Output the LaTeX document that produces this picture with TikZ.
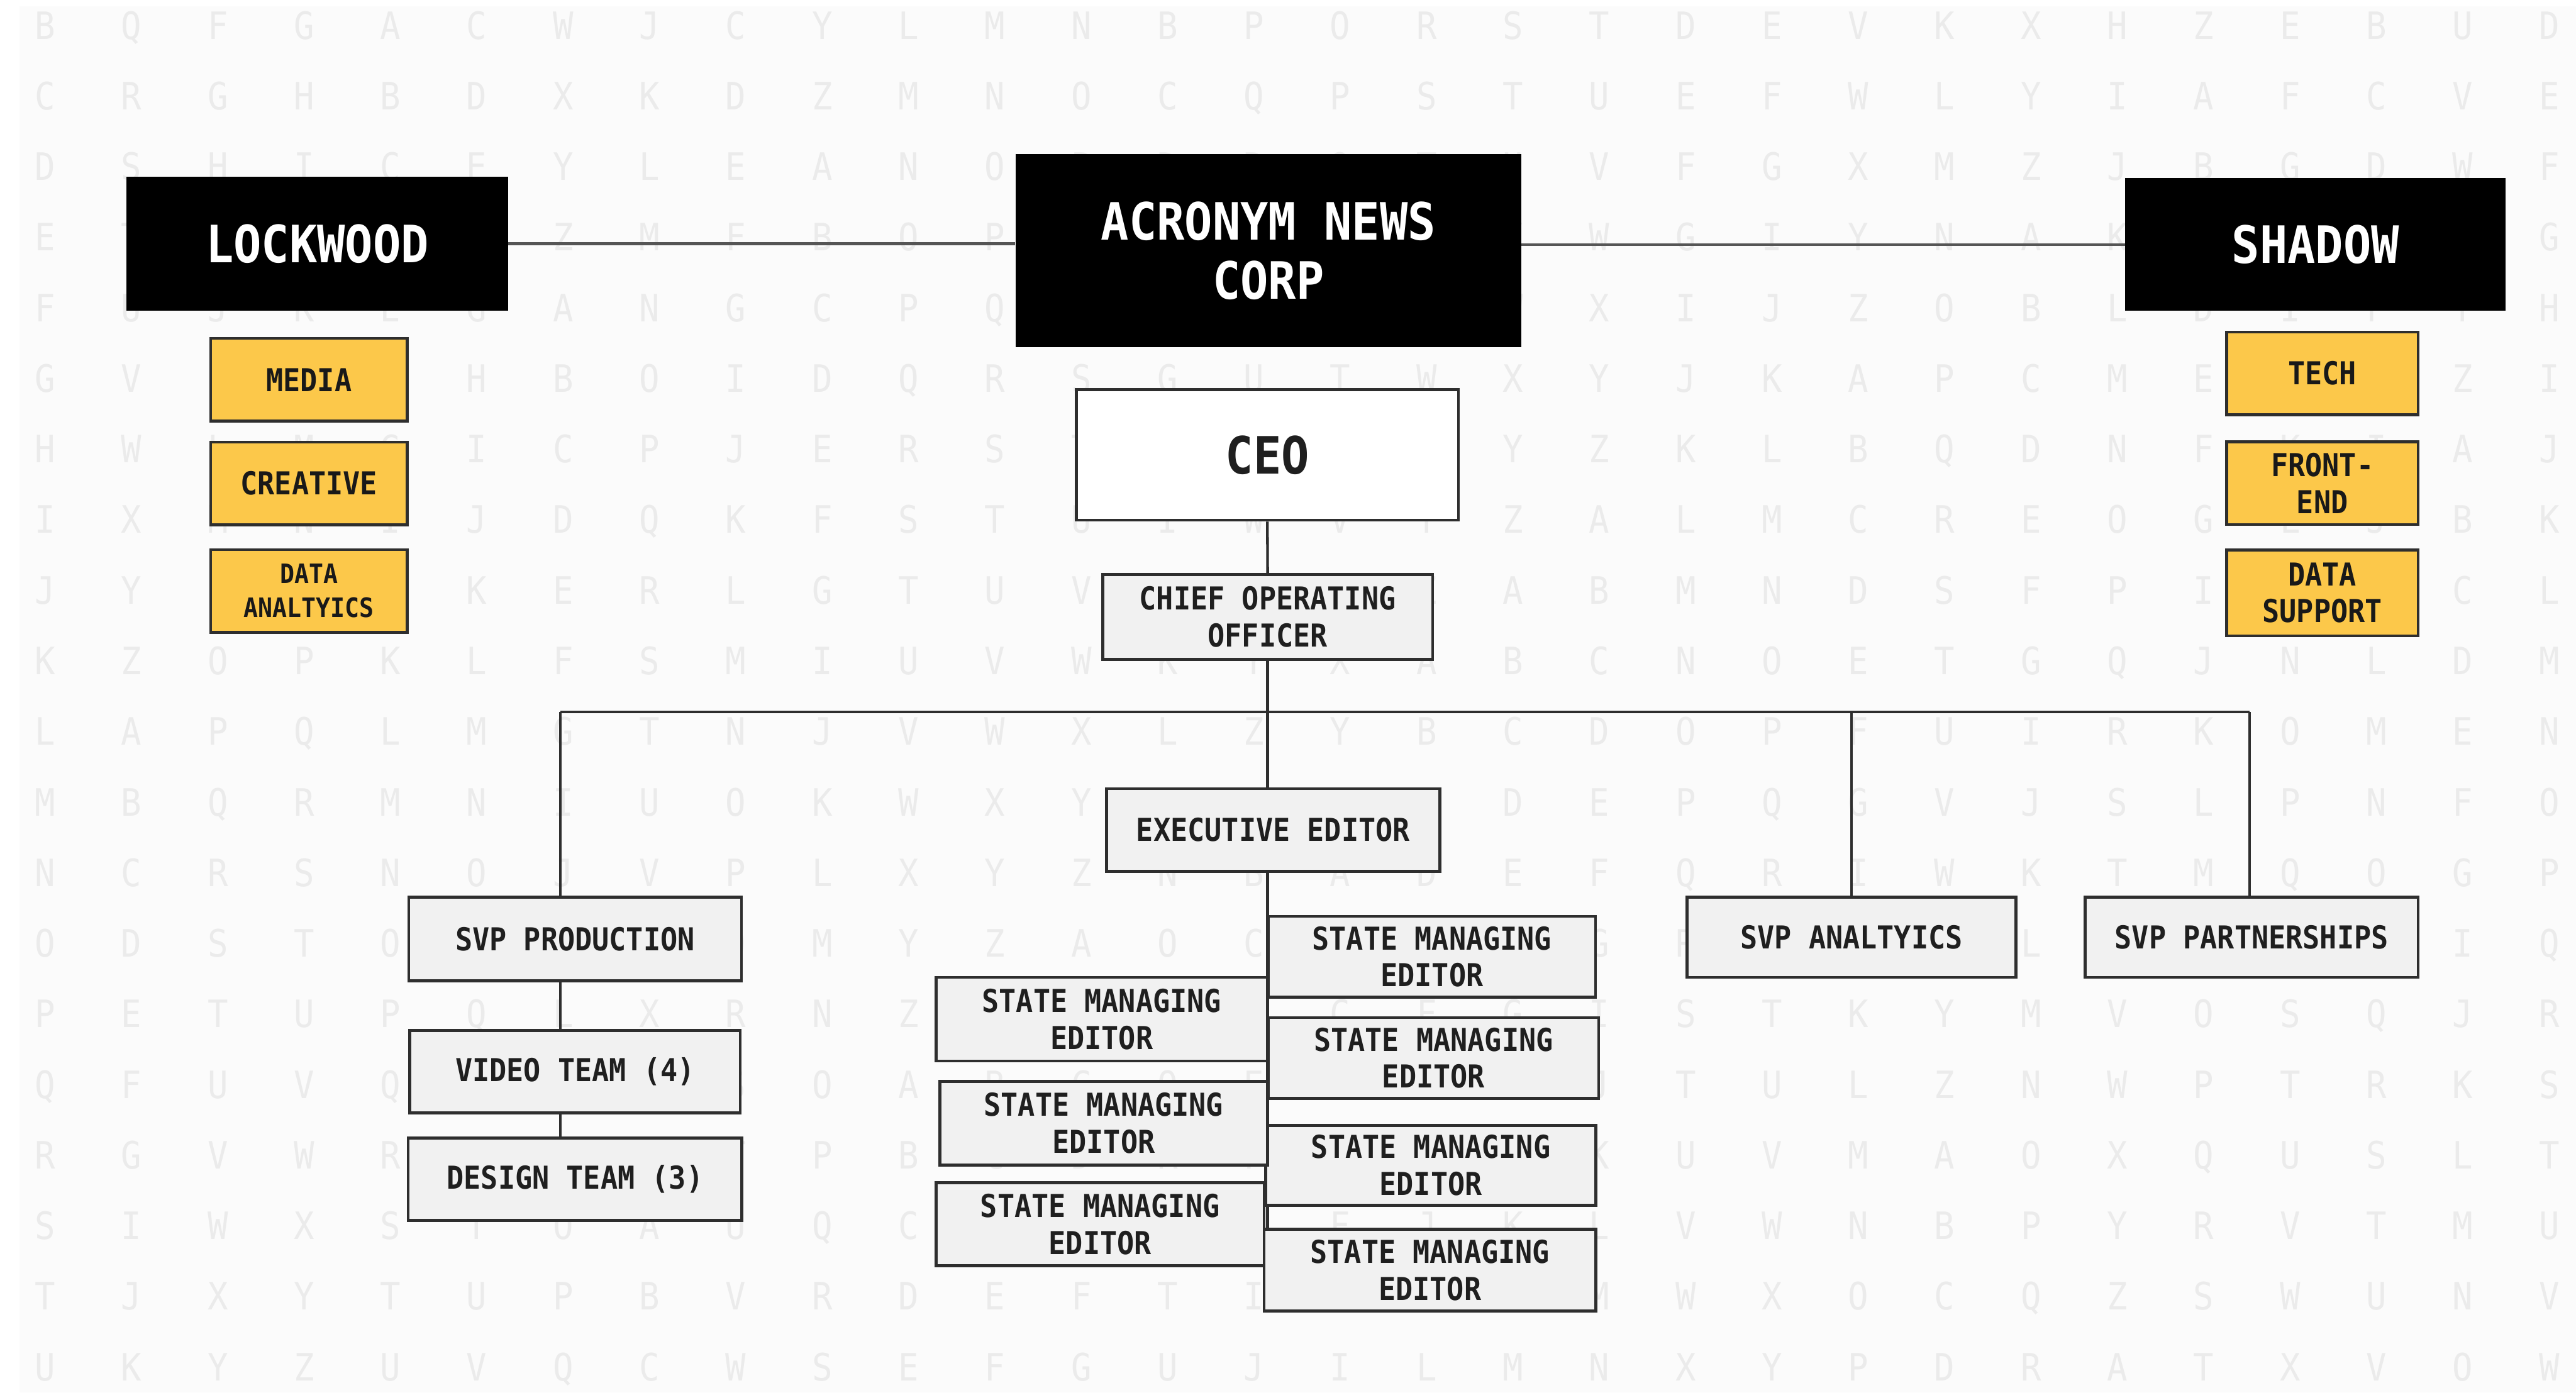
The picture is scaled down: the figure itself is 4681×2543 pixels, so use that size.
\documentclass[tikz,border=0pt]{standalone}
\usepackage{fontspec}
\setmonofont{DejaVu Sans Mono}
\newfontfamily\boxfont{DejaVu Sans Mono}[FakeStretch=0.9]
\usepackage{tikz}
\usetikzlibrary{positioning}
\definecolor{paper}{HTML}{FBFBFB}
\definecolor{gridletter}{HTML}{EBEBEB}
\definecolor{unityellow}{HTML}{FCC84A}
\definecolor{rolegray}{HTML}{F1F1F1}
\definecolor{edgegray}{HTML}{2E2E2E}
\definecolor{topline}{HTML}{555555}
\pgfdeclarelayer{letters}
\pgfdeclarelayer{wires}
\pgfsetlayers{letters,wires,main}

\begin{document}
\begin{tikzpicture}[x=0.01cm, y=-0.01cm,
	company/.style={rectangle, fill=black, text=white, inner sep=0pt, align=center, font=\boxfont\bfseries\fontsize{26.6}{30.4}\selectfont},
	unit/.style={rectangle, draw=edgegray, line width=1.5pt, fill=unityellow, text=black!90, inner sep=0pt, align=center, minimum width=3.57cm, minimum height=1.5cm, font=\boxfont\bfseries\fontsize{16.3}{19}\selectfont},
	role/.style={rectangle, draw=edgegray, line width=1.5pt, fill=rolegray, text=black!88, inner sep=0pt, align=center, minimum width=6cm, minimum height=1.5cm, font=\boxfont\bfseries\fontsize{16.3}{19}\selectfont},
	wire/.style={draw=edgegray, line width=1.4pt}]
	\useasboundingbox (0,0) rectangle (4681,2543);
	
	% BACKGROUND LETTERS
	\begin{pgfonlayer}{letters}
		\fill[white] (0,0) rectangle (4681,2543);
		\fill[paper] (35,12) rectangle (4681,2530);
		\foreach \line [count=\r] in {
			{B,Q,F,G,A,C,W,J,C,Y,L,M,N,B,P,O,R,S,T,D,E,V,K,X,H,Z,E,B,U,D},
			{C,R,G,H,B,D,X,K,D,Z,M,N,O,C,Q,P,S,T,U,E,F,W,L,Y,I,A,F,C,V,E},
			{D,S,H,I,C,E,Y,L,E,A,N,O,P,D,R,Q,T,U,V,F,G,X,M,Z,J,B,G,D,W,F},
			{E,T,I,J,D,F,Z,M,F,B,O,P,Q,E,S,R,U,V,W,G,I,Y,N,A,K,C,H,E,X,G},
			{F,U,J,K,E,G,A,N,G,C,P,Q,R,F,T,S,V,W,X,I,J,Z,O,B,L,D,I,F,Y,H},
			{G,V,K,L,F,H,B,O,I,D,Q,R,S,G,U,T,W,X,Y,J,K,A,P,C,M,E,J,G,Z,I},
			{H,W,L,M,G,I,C,P,J,E,R,S,T,H,V,U,X,Y,Z,K,L,B,Q,D,N,F,K,I,A,J},
			{I,X,M,N,I,J,D,Q,K,F,S,T,U,I,W,V,Y,Z,A,L,M,C,R,E,O,G,L,J,B,K},
			{J,Y,N,O,J,K,E,R,L,G,T,U,V,J,X,W,Z,A,B,M,N,D,S,F,P,I,M,K,C,L},
			{K,Z,O,P,K,L,F,S,M,I,U,V,W,K,Y,X,A,B,C,N,O,E,T,G,Q,J,N,L,D,M},
			{L,A,P,Q,L,M,G,T,N,J,V,W,X,L,Z,Y,B,C,D,O,P,F,U,I,R,K,O,M,E,N},
			{M,B,Q,R,M,N,I,U,O,K,W,X,Y,M,A,Z,C,D,E,P,Q,G,V,J,S,L,P,N,F,O},
			{N,C,R,S,N,O,J,V,P,L,X,Y,Z,N,B,A,D,E,F,Q,R,I,W,K,T,M,Q,O,G,P},
			{O,D,S,T,O,P,K,W,Q,M,Y,Z,A,O,C,B,E,F,G,R,S,J,X,L,U,N,R,P,I,Q},
			{P,E,T,U,P,Q,L,X,R,N,Z,A,B,P,D,C,F,G,I,S,T,K,Y,M,V,O,S,Q,J,R},
			{Q,F,U,V,Q,R,M,Y,S,O,A,B,C,Q,E,D,G,I,J,T,U,L,Z,N,W,P,T,R,K,S},
			{R,G,V,W,R,S,N,Z,T,P,B,C,D,R,F,E,I,J,K,U,V,M,A,O,X,Q,U,S,L,T},
			{S,I,W,X,S,T,O,A,U,Q,C,D,E,S,G,F,J,K,L,V,W,N,B,P,Y,R,V,T,M,U},
			{T,J,X,Y,T,U,P,B,V,R,D,E,F,T,I,G,K,L,M,W,X,O,C,Q,Z,S,W,U,N,V},
			{U,K,Y,Z,U,V,Q,C,W,S,E,F,G,U,J,I,L,M,N,X,Y,P,D,R,A,T,X,V,O,W}}
		{
			\foreach \ch [count=\c] in \line
				\node[anchor=base, inner sep=0pt, text=gridletter, font=\boxfont\fontsize{19.5}{19.5}\selectfont] (g-\r-\c) at ({82+156.9*(\c-1)}, {71+128.3*(\r-1)}) {\ch};
		}
	\end{pgfonlayer}
	
	% TOP LEVEL
	\node[company, minimum width=6.93cm, minimum height=2.44cm] (lockwood) at (576.5,443) {LOCKWOOD};
	\node[company, minimum width=9.18cm, minimum height=3.51cm] (corp) at (2305,455.5) {ACRONYM NEWS\\CORP};
	\node[company, minimum width=6.91cm, minimum height=2.41cm] (shadow) at (4207.5,444.5) {SHADOW};
	
	% UNITS
	\node[unit] (media) at (561.5,690) {MEDIA};
	\node[unit, below=0.33cm of media] (creative) {CREATIVE};
	\node[unit, below=0.40cm of creative, font=\boxfont\bfseries\fontsize{13.8}{17.5}\selectfont] (dataanalytics) {DATA\\ANALTYICS};
	
	\node[unit, minimum width=3.48cm] (tech) at (4220,678.5) {TECH};
	\node[unit, minimum width=3.48cm, below=0.44cm of tech] (frontend) {FRONT-\\END};
	\node[unit, minimum width=3.48cm, minimum height=1.56cm, below=0.41cm of frontend] (datasupport) {DATA\\SUPPORT};
	
	% ROLES
	\node[role, fill=white, minimum width=6.94cm, minimum height=2.37cm, font=\boxfont\bfseries\fontsize{26.6}{30.4}\selectfont] (ceo) at (2303,826.5) {CEO};
	\node[role, minimum width=5.99cm, minimum height=1.54cm] (coo) at (2303.5,1121) {CHIEF OPERATING\\OFFICER};
	\node[role, minimum width=6.05cm] (exec) at (2313.5,1508) {EXECUTIVE EDITOR};
	
	\node[role, minimum width=6.04cm, minimum height=1.52cm] (svpproduction) at (1045,1706) {SVP PRODUCTION};
	\node[role, below=0.85cm of svpproduction] (videoteam) {VIDEO TEAM (4)};
	\node[role, minimum width=6.06cm, below=0.40cm of videoteam] (designteam) {DESIGN TEAM (3)};
	
	\node[role, minimum width=5.97cm, minimum height=1.46cm] (svpanalytics) at (3364.5,1703) {SVP ANALTYICS};
	\node[role, minimum width=6.05cm, minimum height=1.46cm] (svppartnerships) at (4091.5,1703) {SVP PARTNERSHIPS};
	
	\node[role, minimum width=5.94cm, minimum height=1.47cm] (smeR1) at (2602,1738.5) {STATE MANAGING\\EDITOR};
	\node[role, minimum height=1.47cm] (smeR2) at (2605,1922.5) {STATE MANAGING\\EDITOR};
	\node[role, minimum height=1.45cm] (smeR3) at (2600,2117.5) {STATE MANAGING\\EDITOR};
	\node[role, minimum width=6.03cm, minimum height=1.48cm] (smeR4) at (2598.5,2308) {STATE MANAGING\\EDITOR};
	\node[role, minimum width=6.02cm, minimum height=1.52cm] (smeL1) at (2002,1852) {STATE MANAGING\\EDITOR};
	\node[role, minimum width=5.95cm, minimum height=1.52cm] (smeL2) at (2005.5,2041) {STATE MANAGING\\EDITOR};
	\node[role, minimum width=5.96cm, minimum height=1.51cm] (smeL3) at (1999,2224.5) {STATE MANAGING\\EDITOR};
	
	% CONNECTORS
	\begin{pgfonlayer}{wires}
		\draw[wire, draw=topline] (lockwood.east) -- (corp.west |- lockwood.east);
		\draw[wire, draw=topline] (corp.east |- shadow.west) -- (shadow.west);
		\draw[wire] (ceo.south) -- (coo.north);
		\draw[wire] (coo.south) -- (coo.south |- exec.north);
		\coordinate (busL) at (1018,1294);
		\coordinate (busR) at (4088,1294);
		\draw[wire] (busL) -- (busR);
		\draw[wire] (busL) -- (busL |- svpproduction.north);
		\draw[wire] (busL |- svpproduction.south) -- (busL |- videoteam.north);
		\draw[wire] (busL |- videoteam.south) -- (busL |- designteam.north);
		\draw[wire] (svpanalytics.north) -- (svpanalytics.north |- busL);
		\draw[wire] (busR) -- (busR |- svppartnerships.north);
		\draw[wire] (coo.south |- exec.south) -- (coo.south |- smeR4.south);
	\end{pgfonlayer}
	
\end{tikzpicture}
\end{document}
